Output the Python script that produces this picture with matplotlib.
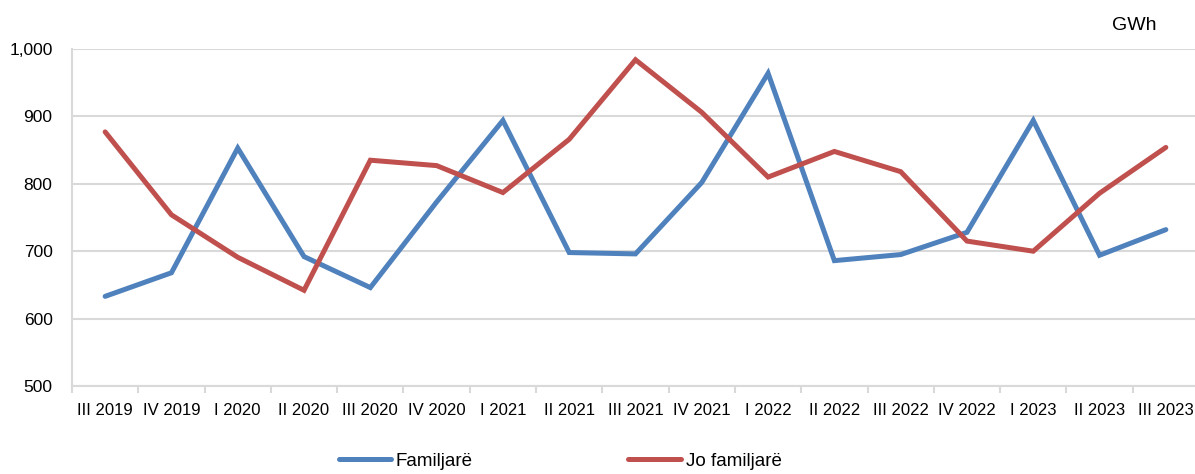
import matplotlib.pyplot as plt
import numpy as np

plt.rcParams['font.family'] = ['Liberation Sans Narrow', 'Liberation Sans', 'DejaVu Sans']

# quarters and electricity consumption (GWh)
quarters = ['III 2019', 'IV 2019', 'I 2020', 'II 2020', 'III 2020', 'IV 2020',
            'I 2021', 'II 2021', 'III 2021', 'IV 2021', 'I 2022', 'II 2022',
            'III 2022', 'IV 2022', 'I 2023', 'II 2023', 'III 2023']
familjare = [633, 668, 853, 692, 646, 773, 894, 698, 696, 802, 964, 686,
             695, 728, 894, 694, 732]
jo_familjare = [877, 754, 691, 642, 835, 827, 787, 866, 984, 906, 810, 848,
                818, 715, 700, 786, 854]

blue = '#4F81BD'
red = '#C0504D'
grid_c = '#D9D9D9'
fs = 12

fig = plt.figure(figsize=(11.95, 4.74), dpi=100)
W, H = 1195, 474
ax = fig.add_axes([72 / W, 1 - 386 / H, (1199 - 72) / W, (386 - 49) / H])

x = np.arange(len(quarters))
ax.plot(x, familjare, color=blue, lw=3.6, solid_joinstyle='miter', solid_capstyle='round', label='Familjarë', zorder=3)
ax.plot(x, jo_familjare, color=red, lw=3.6, solid_joinstyle='miter', solid_capstyle='round', label='Jo familjarë', zorder=3)

ax.set_xlim(-0.5, len(quarters) - 0.5)
ax.set_ylim(500, 1000)
ax.set_yticks(range(500, 1001, 100))
ax.set_yticklabels(['500', '600', '700', '800', '900', '1,000'])
ax.yaxis.grid(True, color=grid_c, lw=1.5)
ax.set_axisbelow(True)

ax.set_xticks(x)
ax.set_xticklabels(quarters)
ax.set_xticks(np.arange(-0.5, len(quarters)), minor=True)
ax.tick_params(axis='x', which='major', length=0, pad=12, labelsize=fs)
ax.tick_params(axis='x', which='minor', length=5, width=1.5, color=grid_c, direction='out')
ax.tick_params(axis='y', length=0, pad=14, labelsize=12.5)

for s in ['top', 'right']:
    ax.spines[s].set_visible(False)
for s in ['left', 'bottom']:
    ax.spines[s].set_color(grid_c)
    ax.spines[s].set_linewidth(1.5)

fig.text(1134 / W, 1 - 25 / H, 'GWh', fontsize=14, ha='center', va='center')

fig.legend(loc='center', bbox_to_anchor=(560 / W, 1 - 461 / H), ncol=2, frameon=False,
           fontsize=13.5, handlelength=2.8, handletextpad=0.25, columnspacing=8.3)

fig.savefig('out.png', dpi=100)
